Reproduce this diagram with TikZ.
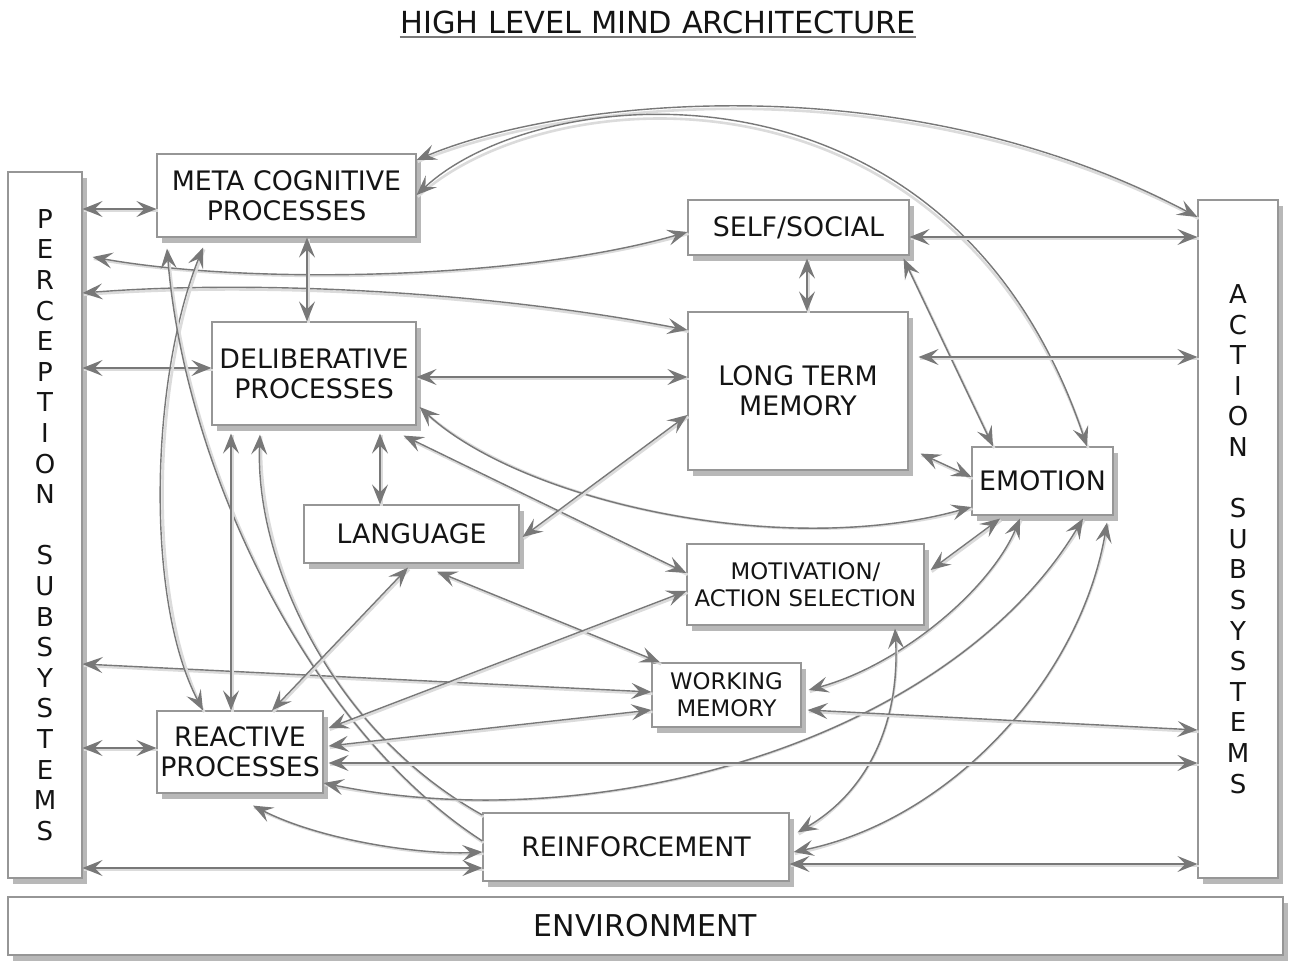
\documentclass[tikz,border=0pt]{standalone}
\usepackage{fontspec}
\setmainfont{DejaVu Sans}
\usetikzlibrary{arrows.meta,shadows,calc}
\definecolor{ln}{RGB}{120,120,120}
\definecolor{bd}{RGB}{150,150,150}
\definecolor{tx}{RGB}{20,20,20}
\tikzset{
  >={Stealth[length=10pt,width=8pt,inset=4pt]},
  box/.style={draw=bd, line width=0.6pt, fill=white, inner sep=0pt, align=center, text=tx,
    drop shadow={shadow xshift=2.4pt,shadow yshift=-2.8pt,opacity=0.28,fill=black},
    font=\fontsize{13.4}{15}\selectfont},
  smallbox/.style={box, font=\fontsize{11.4}{13.5}\selectfont},
  sidebox/.style={box, font=\fontsize{13}{15.3}\selectfont},
  lnshadow/.style={preaction={draw=black!14, line width=1.3pt, -, transform canvas={shift={(0.6pt,-0.9pt)}}}},
  conn/.style={draw=ln, line width=0.7pt, <->, lnshadow},
  oneway/.style={draw=ln, line width=0.7pt, ->, lnshadow}
}
\begin{document}
\begin{tikzpicture}[x=0.5pt,y=-0.5pt]
\useasboundingbox (0,0) rectangle (1295,968);
\fill[white] (0,0) rectangle (1295,968);

% title
\node[inner sep=0pt, text=tx, font=\fontsize{15.2}{17}\selectfont] (title) at (658,22) {HIGH LEVEL MIND ARCHITECTURE};
\draw[ln, line width=0.8pt] (title.west |- 0,37) -- (title.east |- 0,37);

% side boxes
\node[sidebox, minimum width=37pt, minimum height=353pt] (perc) at (45,525)
  {P\\E\\R\\C\\E\\P\\T\\I\\O\\N\\\strut\\S\\U\\B\\S\\Y\\S\\T\\E\\M\\S};
\node[sidebox, minimum width=40pt, minimum height=339pt] (action) at (1238,539)
  {A\\C\\T\\I\\O\\N\\\strut\\S\\U\\B\\S\\Y\\S\\T\\E\\M\\S};
\node[box, minimum width=637.5pt, minimum height=29pt, font=\fontsize{15}{17}\selectfont] (env) at (645.5,926) {ENVIRONMENT};

% inner boxes
\node[box, minimum width=129.5pt, minimum height=41.5pt] (meta) at (286.5,195.5) {META COGNITIVE\\PROCESSES};
\node[box, minimum width=110.5pt, minimum height=27.5pt] (self) at (798.5,227.5) {SELF/SOCIAL};
\node[box, minimum width=102pt, minimum height=51.5pt] (delib) at (314,373.5) {DELIBERATIVE\\PROCESSES};
\node[box, minimum width=110pt, minimum height=79pt] (ltm) at (798,391) {LONG TERM\\MEMORY};
\node[box, minimum width=70.5pt, minimum height=34pt] (emo) at (1042.5,481) {EMOTION};
\node[box, minimum width=107.5pt, minimum height=29pt] (lang) at (411.5,534) {LANGUAGE};
\node[smallbox, minimum width=118.5pt, minimum height=40.5pt] (motiv) at (805.5,584.5) {MOTIVATION/\\ACTION SELECTION};
\node[smallbox, minimum width=74.5pt, minimum height=32pt] (wm) at (726.5,695) {WORKING\\MEMORY};
\node[box, minimum width=83pt, minimum height=41pt] (react) at (240,752) {REACTIVE\\PROCESSES};
\node[box, minimum width=153pt, minimum height=34pt] (reinf) at (636,847) {REINFORCEMENT};

% perception connectors
\draw[conn] (perc.east |- 0,209) -- (meta.west |- 0,209);
\draw[conn] ($(perc.east |- 0,257)+(10,0)$) .. controls (250,285) and (520,280) .. (self.west |- 0,232);
\draw[conn] (perc.east |- 0,293) .. controls (250,280) and (480,290) .. (ltm.west |- 0,330);
\draw[conn] (perc.east |- 0,368) -- (delib.west |- 0,368);
\draw[conn] (perc.east |- 0,664) -- (wm.west |- 0,692);
\draw[conn] (perc.east |- 0,748) -- (react.west |- 0,748);
\draw[conn] (perc.east |- 0,868) -- (reinf.west |- 0,868);

% meta cognitive
\draw[conn] (meta.south -| 307,0) -- (delib.north -| 307,0);
\draw[conn] (meta.east |- 0,160) .. controls (560,100) and (900,60) .. (action.west |- 0,217);
\draw[conn] (meta.east |- 0,195) .. controls (540,80) and (950,40) .. (emo.north -| 1087,0);
\draw[conn] ($(meta.south -| 203,0)+(0,10)$) .. controls (150,380) and (145,600) .. (react.north -| 203,0);
\draw[oneway] (reinf.west |- 0,841) .. controls (310,730) and (185,470) .. ($(meta.south -| 167,0)+(0,11)$);

% deliberative
\draw[oneway] (reinf.west |- 0,815) .. controls (330,730) and (255,560) .. ($(delib.south -| 260,0)+(0,9)$);
\draw[conn] ($(delib.south -| 231,0)+(0,8)$) -- (react.north -| 231,0);
\draw[conn] ($(delib.south -| 380,0)+(0,8)$) -- (lang.north -| 380,0);
\draw[conn] (delib.east |- 0,377) -- (ltm.west |- 0,377);
\draw[conn] ($(delib.east |- 0,407)+(3,0)$) .. controls (520,500) and (780,560) .. (emo.west |- 0,507);
\draw[conn] ($(delib.south east)+(-13,10)$) -- (motiv.west |- 0,573);

% language
\draw[conn] ($(lang.east |- 0,537)+(3,0)$) -- (ltm.west |- 0,415);
\draw[conn] ($(lang.south -| 408,0)+(0,4)$) -- (react.north -| 272,0);
\draw[conn] ($(lang.south -| 437,0)+(0,8)$) -- (wm.north -| 660,0);

% self / long term memory
\draw[conn] (self.east |- 0,237) -- (action.west |- 0,237);
\draw[conn] ($(self.south -| 807,0)+(0,3)$) -- (ltm.north -| 807,0);
\draw[conn] ($(self.south east)+(-6,3)$) -- (emo.north -| 993,0);
\draw[conn] ($(ltm.east |- 0,357)+(10,0)$) -- (action.west |- 0,357);
\draw[conn] ($(ltm.south east)+(12,-17)$) -- (emo.west |- 0,477);

% emotion lower connectors
\draw[conn] ($(motiv.east |- 0,570)+(6,0)$) -- ($(emo.south -| 1000,0)+(0,3)$);
\draw[conn] ($(wm.east |- 0,690)+(7,0)$) .. controls (900,665) and (990,590) .. ($(emo.south -| 1020,0)+(0,3)$);
\draw[conn] (react.east |- 0,783) .. controls (600,840) and (950,740) .. ($(emo.south -| 1083,0)+(0,3)$);
\draw[conn] ($(reinf.east |- 0,852)+(4,0)$) .. controls (950,820) and (1080,680) .. ($(emo.south -| 1107,0)+(0,7)$);

% motivation, working memory, reactive, reinforcement
\draw[conn] ($(motiv.south -| 895,0)+(0,3)$) .. controls (900,720) and (870,790) .. ($(reinf.north east)+(8,20)$);
\draw[conn] ($(wm.east |- 0,710)+(6,0)$) -- (action.west |- 0,730);
\draw[conn] ($(react.east |- 0,728)+(5,0)$) -- (motiv.west |- 0,591);
\draw[conn] ($(react.east |- 0,746)+(5,0)$) -- (wm.west |- 0,710);
\draw[conn] ($(react.east |- 0,763)+(5,0)$) -- (action.west |- 0,763);
\draw[conn] (reinf.east |- 0,864) -- (action.west |- 0,864);
\draw[conn] ($(react.south)+(13,12)$) .. controls (320,840) and (420,855) .. (reinf.west |- 0,852);
\end{tikzpicture}
\end{document}
